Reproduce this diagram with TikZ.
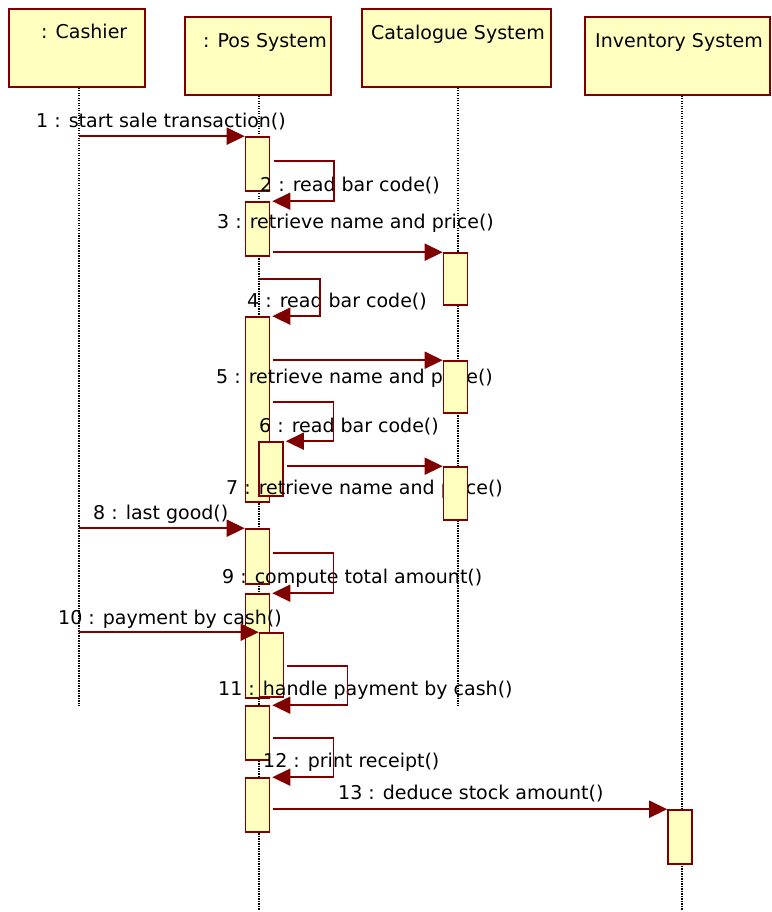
\documentclass[tikz,border=0pt]{standalone}
\usepackage{fontspec}
\setmainfont{DejaVu Sans}
\usetikzlibrary{arrows.meta,positioning}
\definecolor{umlred}{HTML}{800000}
\definecolor{umlfill}{HTML}{FFFFC0}

\begin{document}
\begin{tikzpicture}[
  x=1pt, y=-1pt,
  >={Triangle[length=18pt,width=17pt]},
  hdr/.style={rectangle,draw=umlred,fill=umlfill,line width=1.6pt,inner sep=0pt},
  act/.style={rectangle,draw=umlred,fill=umlfill,line width=1.6pt,inner sep=0pt,minimum width=24pt},
  txt/.style={anchor=base west,inner sep=0pt,font=\fontsize{19}{22}\selectfont},
  life/.style={draw=black,line width=1.4pt,dash pattern=on 1.2pt off 1.3pt},
  msg/.style={draw=umlred,line width=1.6pt,->}
]
\useasboundingbox (0,0) rectangle (771,912);

% object boxes
\node[hdr,minimum width=136pt,minimum height=78pt] (cashier) at (77,48) {};
\node[hdr,minimum width=146pt,minimum height=78pt] (pos) at (258,56) {};
\node[hdr,minimum width=189pt,minimum height=78pt] (catalogue) at (456.5,48) {};
\node[hdr,minimum width=185pt,minimum height=78pt] (inventory) at (677.5,56) {};

\node[txt] (cashier-name) at (41,39) {: Cashier};
\node[txt] (pos-name) at (203,48) {: Pos System};
\node[txt] (catalogue-name) at (371,40) {Catalogue System};
\node[txt] (inventory-name) at (595,48) {Inventory System};

% lifelines
\coordinate (cashier-end) at (79,706);
\coordinate (pos-end) at (259,910);
\coordinate (catalogue-end) at (458,706);
\coordinate (inventory-end) at (682,910);
\draw[life] (cashier.south -| cashier-end) -- (cashier-end);
\draw[life] (pos.south -| pos-end) -- (pos-end);
\draw[life] (catalogue.south -| catalogue-end) -- (catalogue-end);
\draw[life] (inventory.south -| inventory-end) -- (inventory-end);

% activations on the pos system
\node[act,minimum height=54pt] (a1) at (257.5,164) {};
\node[act,minimum height=54pt] (a2) at (257.5,229) {};
\node[act,minimum height=185pt] (a3) at (257.5,409.5) {};
\node[act,minimum height=54pt] (a4) at (271,469) {};
\node[act,minimum height=55pt] (a5) at (257.5,556.5) {};
\node[act,minimum height=104pt] (a6) at (257.5,646) {};
\node[act,minimum height=64pt] (a7) at (271.5,665) {};
\node[act,minimum height=54pt] (a8) at (257.5,733) {};
\node[act,minimum height=54pt] (a9) at (257.5,805) {};

% message labels
\node[txt] (l1) at (36,128) {1 : start sale transaction()};
\node[txt] (l2) at (260,192) {2 : read bar code()};
\node[txt] (l3) at (217,228) {3 : retrieve name and price()};
\node[txt] (l4) at (247,307) {4 : read bar code()};
\node[txt] (l5) at (216,383) {5 : retrieve name and price()};
\node[txt] (l6) at (259,432) {6 : read bar code()};
\node[txt] (l7) at (226,494) {7 : retrieve name and price()};
\node[txt] (l8) at (93,519) {8 : last good()};
\node[txt] (l9) at (222,583) {9 : compute total amount()};
\node[txt] (l10) at (58,624) {10 : payment by cash()};
\node[txt] (l11) at (218,695) {11 : handle payment by cash()};
\node[txt] (l12) at (263,767) {12 : print receipt()};
\node[txt] (l13) at (338,799) {13 : deduce stock amount()};

% activations on catalogue and inventory
\node[act,minimum height=52pt] (c1) at (455.5,279) {};
\node[act,minimum height=52pt] (c2) at (455.5,387) {};
\node[act,minimum height=53pt] (c3) at (455.5,493.5) {};
\node[act,minimum height=54pt] (i1) at (680,837) {};

% messages
\coordinate (m4) at (260,279);
\draw[msg] (cashier-end |- a1.north) -- (a1.north west);
\draw[msg] ([xshift=3.5pt,yshift=-25pt]a1.north east) -- ++(60,0) |- ([xshift=2pt]a2.north east);
\draw[msg] ([xshift=3pt]a2.east |- c1.north west) -- (c1.north west);
\draw[msg] (m4) -- ++(60,0) |- ([xshift=2pt]a3.north east);
\draw[msg] ([xshift=3pt]a3.east |- c2.north west) -- (c2.north west);
\draw[msg] ([xshift=3pt,yshift=-86pt]a3.north east) -- ++(60,0) |- ([xshift=2pt]a4.north east);
\draw[msg] ([xshift=3pt]a4.east |- c3.north west) -- (c3.north west);
\draw[msg] (cashier-end |- a5.north) -- (a5.north west);
\draw[msg] ([xshift=3pt,yshift=-25pt]a5.north east) -- ++(60,0) |- ([xshift=2pt]a6.north east);
\draw[msg] (cashier-end |- a7.north) -- (a7.north west);
\draw[msg] ([xshift=3pt,yshift=-34pt]a7.north east) -- ++(60,0) |- ([xshift=2pt]a8.north east);
\draw[msg] ([xshift=3pt,yshift=-33pt]a8.north east) -- ++(60,0) |- ([xshift=2pt]a9.north east);
\draw[msg] ([xshift=3pt]a9.east |- i1.north west) -- (i1.north west);
\end{tikzpicture}
\end{document}
